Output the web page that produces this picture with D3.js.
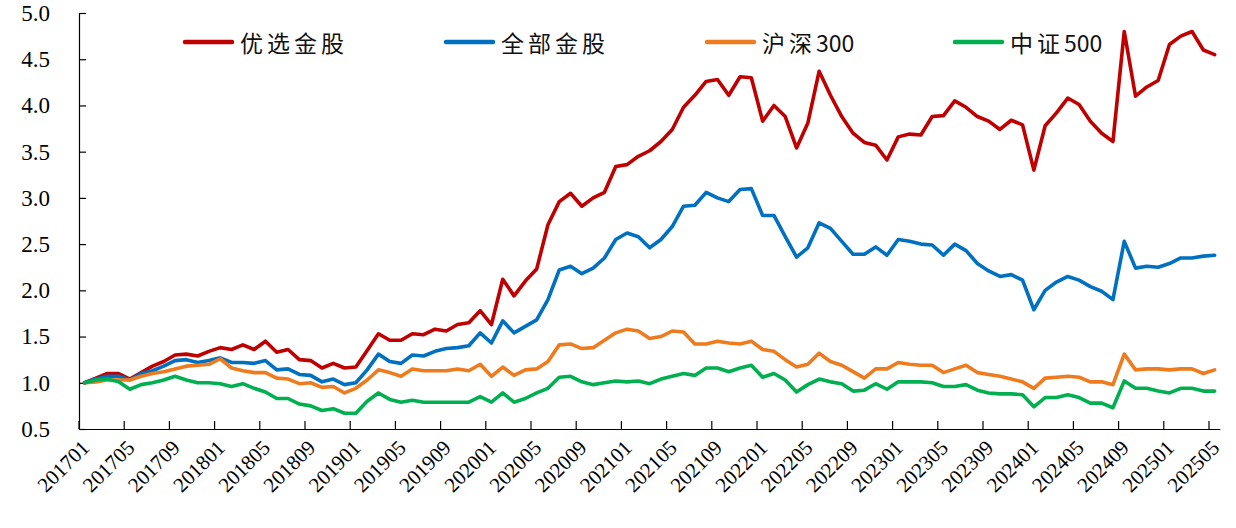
<!DOCTYPE html>
<html>
<head>
<meta charset="utf-8">
<script src="https://cdn.jsdelivr.net/npm/d3@7"></script>
<style>
  html, body { margin: 0; padding: 0; background: #fff; }
  svg { display: block; }
</style>
</head>
<body>
<div id="chart"></div>
<script>
// ---------------- DATA ----------------
const categories = [
  "201701","201702","201703","201704","201705","201706","201707","201708","201709","201710","201711","201712",
  "201801","201802","201803","201804","201805","201806","201807","201808","201809","201810","201811","201812",
  "201901","201902","201903","201904","201905","201906","201907","201908","201909","201910","201911","201912",
  "202001","202002","202003","202004","202005","202006","202007","202008","202009","202010","202011","202012",
  "202101","202102","202103","202104","202105","202106","202107","202108","202109","202110","202111","202112",
  "202201","202202","202203","202204","202205","202206","202207","202208","202209","202210","202211","202212",
  "202301","202302","202303","202304","202305","202306","202307","202308","202309","202310","202311","202312",
  "202401","202402","202403","202404","202405","202406","202407","202408","202409","202410","202411","202412",
  "202501","202502","202503","202504","202505"
];

const seriesNames = ["优选金股", "全部金股", "沪深300", "中证500"];

const youxuanJingu = [
  1.00,1.05,1.10,1.10,1.04,1.11,1.18,1.23,1.30,1.31,1.29,1.34,
  1.38,1.36,1.41,1.36,1.45,1.33,1.36,1.25,1.24,1.16,1.21,1.16,
  1.17,1.35,1.53,1.46,1.46,1.53,1.52,1.58,1.56,1.63,1.65,1.78,
  1.63,2.12,1.94,2.10,2.23,2.71,2.96,3.05,2.91,3.00,3.06,3.34,
  3.36,3.45,3.51,3.61,3.74,3.98,4.11,4.26,4.28,4.11,4.31,4.30,
  3.83,4.00,3.88,3.54,3.81,4.37,4.11,3.88,3.70,3.60,3.57,3.41,
  3.66,3.69,3.68,3.88,3.89,4.05,3.98,3.88,3.83,3.74,3.84,3.79,
  3.30,3.78,3.92,4.08,4.01,3.83,3.70,3.61,4.80,4.10,4.20,4.27,
  4.66,4.75,4.80,4.60,4.55
];

const quanbuJingu = [
  1.00,1.04,1.07,1.07,1.03,1.10,1.13,1.18,1.24,1.25,1.22,1.24,
  1.27,1.22,1.22,1.21,1.24,1.14,1.15,1.09,1.08,1.01,1.04,0.98,
  1.00,1.14,1.31,1.23,1.21,1.30,1.29,1.34,1.37,1.38,1.40,1.54,
  1.43,1.67,1.54,1.61,1.68,1.90,2.22,2.26,2.18,2.24,2.35,2.55,
  2.62,2.58,2.46,2.55,2.69,2.91,2.92,3.06,3.00,2.96,3.09,3.10,
  2.81,2.81,2.58,2.36,2.46,2.73,2.67,2.53,2.39,2.39,2.47,2.38,
  2.55,2.53,2.50,2.49,2.38,2.50,2.43,2.29,2.21,2.15,2.17,2.11,
  1.79,2.00,2.09,2.15,2.11,2.04,1.99,1.90,2.53,2.24,2.26,2.25,
  2.29,2.35,2.35,2.37,2.38
];

const hs300 = [
  1.00,1.01,1.03,1.03,1.03,1.07,1.10,1.12,1.15,1.18,1.19,1.20,
  1.26,1.16,1.13,1.11,1.11,1.05,1.04,0.99,1.00,0.95,0.96,0.89,
  0.94,1.03,1.14,1.11,1.07,1.15,1.13,1.13,1.13,1.15,1.13,1.20,
  1.07,1.17,1.08,1.14,1.15,1.23,1.41,1.42,1.37,1.38,1.46,1.54,
  1.58,1.56,1.48,1.50,1.56,1.55,1.42,1.42,1.45,1.43,1.42,1.45,
  1.36,1.34,1.25,1.17,1.20,1.32,1.23,1.19,1.12,1.05,1.15,1.15,
  1.22,1.20,1.19,1.19,1.11,1.15,1.19,1.11,1.09,1.07,1.04,1.01,
  0.94,1.05,1.06,1.07,1.06,1.01,1.01,0.98,1.31,1.14,1.15,1.15,
  1.14,1.15,1.15,1.10,1.14
];

const zz500 = [
  1.00,1.03,1.04,1.01,0.93,0.98,1.00,1.03,1.07,1.03,1.00,1.00,
  0.99,0.96,0.99,0.94,0.90,0.83,0.83,0.77,0.75,0.70,0.72,0.67,
  0.67,0.80,0.89,0.82,0.79,0.81,0.79,0.79,0.79,0.79,0.79,0.85,
  0.79,0.89,0.79,0.83,0.89,0.94,1.06,1.07,1.01,0.98,1.00,1.02,
  1.01,1.02,0.99,1.04,1.07,1.10,1.08,1.16,1.16,1.12,1.16,1.19,
  1.06,1.10,1.03,0.90,0.98,1.04,1.01,0.99,0.91,0.92,0.99,0.93,
  1.01,1.01,1.01,1.00,0.96,0.96,0.98,0.92,0.89,0.88,0.88,0.87,
  0.74,0.84,0.84,0.87,0.84,0.78,0.78,0.73,1.02,0.94,0.94,0.91,
  0.89,0.94,0.94,0.91,0.91
];

const xTickLabels = [
  "201701","201705","201709","201801","201805","201809","201901","201905","201909",
  "202001","202005","202009","202101","202105","202109","202201","202205","202209",
  "202301","202305","202309","202401","202405","202409","202501","202505"
];
const yTicks = [0.5, 1.0, 1.5, 2.0, 2.5, 3.0, 3.5, 4.0, 4.5, 5.0];

const seriesColors = ["#C00000", "#0070C0", "#EE7B1E", "#00B050"];

// ---------------- LAYOUT ----------------
const W = 1236, H = 528;
const plotLeft = 79, plotRight = 1220.3, plotTop = 13, plotBottom = 429;
const numFont = "'Liberation Serif', 'Times New Roman', serif";
const cjkFont = "'Noto Sans CJK SC', sans-serif";

const svg = d3.select("#chart").append("svg")
  .attr("width", W).attr("height", H)
  .attr("viewBox", `0 0 ${W} ${H}`);

const x = d3.scalePoint().domain(categories).range([plotLeft, plotRight]).padding(0.5);
const y = d3.scaleLinear().domain([0.5, 5.0]).range([plotBottom, plotTop]);
const step = x.step();

// Y axis
const yAxis = svg.append("g")
  .attr("transform", `translate(${plotLeft},0)`)
  .call(d3.axisLeft(y).tickValues(yTicks).tickFormat(d3.format(".1f"))
    .tickSizeInner(-7).tickSizeOuter(0).tickPadding(29));
yAxis.select(".domain").attr("stroke", "#000").attr("stroke-width", 1.2);
yAxis.selectAll(".tick line").attr("stroke", "#000").attr("stroke-width", 1.2);
yAxis.selectAll(".tick text")
  .attr("font-family", numFont).attr("font-size", 23).attr("fill", "#000");

// X axis
const xAxis = svg.append("g");
xAxis.append("line")
  .attr("x1", plotLeft).attr("x2", plotRight)
  .attr("y1", plotBottom + 0.5).attr("y2", plotBottom + 0.5)
  .attr("stroke", "#000").attr("stroke-width", 1.2);
xAxis.selectAll("line.xtick").data(xTickLabels).enter().append("line")
  .attr("class", "xtick")
  .attr("x1", d => x(d) - step / 2).attr("x2", d => x(d) - step / 2)
  .attr("y1", plotBottom).attr("y2", plotBottom - 8)
  .attr("stroke", "#000").attr("stroke-width", 1.2);
xAxis.selectAll("text.xlab").data(xTickLabels).enter().append("text")
  .attr("class", "xlab")
  .attr("transform", d => `translate(${x(d) + 6},${plotBottom + 20}) rotate(-45)`)
  .attr("text-anchor", "end")
  .attr("font-family", numFont).attr("font-size", 21).attr("fill", "#000")
  .text(d => d);

// Lines
const seriesData = [youxuanJingu, quanbuJingu, hs300, zz500];
const line = d3.line()
  .x((d, i) => x(categories[i]))
  .y(d => y(d));

svg.append("g").selectAll("path.series").data(seriesData).enter().append("path")
  .attr("class", "series")
  .attr("d", d => line(d))
  .attr("fill", "none")
  .attr("stroke", (d, i) => seriesColors[i])
  .attr("stroke-width", 3.6)
  .attr("stroke-linejoin", "round")
  .attr("stroke-linecap", "round");

// Legend
const legendX = [185, 446, 707, 955];
const legendY = 42;
const legend = svg.append("g");
seriesNames.forEach((name, i) => {
  legend.append("line")
    .attr("x1", legendX[i]).attr("x2", legendX[i] + 47)
    .attr("y1", legendY).attr("y2", legendY)
    .attr("stroke", seriesColors[i]).attr("stroke-width", 4.5)
    .attr("stroke-linecap", "round");
  const t = legend.append("text")
    .attr("x", legendX[i] + 55).attr("y", legendY)
    .attr("dominant-baseline", "central")
    .attr("font-family", cjkFont).attr("font-size", 23)
    .attr("fill", "#111");
  const m = name.match(/^([^0-9]*)([0-9]*)$/);
  t.append("tspan").attr("letter-spacing", 4).text(m[1]);
  if (m[2]) t.append("tspan").attr("letter-spacing", 0).text(m[2]);
});
</script>
</body>
</html>
